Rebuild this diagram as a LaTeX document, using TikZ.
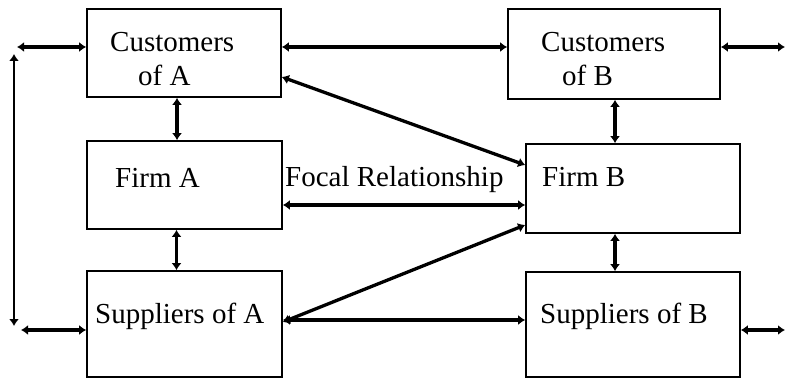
\documentclass[tikz,border=0pt]{standalone}
\usepackage{fontspec}
\setmainfont{Liberation Serif}
\usetikzlibrary{arrows.meta}
\begin{document}
\begin{tikzpicture}[x=1pt,y=-1pt,
  box/.style={draw,line width=1.7pt,rectangle,inner sep=0pt},
  lbl/.style={anchor=base west,inner sep=0pt,font=\fontsize{29}{34}\selectfont},
  biarrow/.style={line width=3.3pt,{Latex[length=7pt,width=10pt]}-{Latex[length=7pt,width=10pt]}}]
\useasboundingbox (0,0) rectangle (786,379);
% boxes
\node[box,minimum width=194pt,minimum height=88pt] (cA) at (184,53) {};
\node[box,minimum width=212pt,minimum height=90pt] (cB) at (614,54) {};
\node[box,minimum width=195pt,minimum height=88pt] (fA) at (184.5,185) {};
\node[box,minimum width=214pt,minimum height=89pt] (fB) at (633,188.5) {};
\node[box,minimum width=195pt,minimum height=106pt] (sA) at (184.5,324) {};
\node[box,minimum width=214pt,minimum height=105pt] (sB) at (633,324.5) {};
% texts
\node[lbl] (tcA1) at (110,52) {Customers};
\node[lbl] (tcA2) at (138,86) {of A};
\node[lbl] (tcB1) at (541,52) {Customers};
\node[lbl] (tcB2) at (562,86) {of B};
\node[lbl] (tfA) at (115,188) {Firm A};
\node[lbl] (tfocal) at (285,187) {Focal Relationship};
\node[lbl] (tfB) at (542,187) {Firm B};
\node[lbl] (tsA) at (95,323) {Suppliers of A};
\node[lbl] (tsB) at (540,323) {Suppliers of B};
% free ends
\coordinate (lt) at (17,47);
\coordinate (vt) at (14,54);
\coordinate (vb) at (14,326);
\coordinate (lb) at (21,330);
\coordinate (rB1) at (785,47);
\coordinate (rB2) at (785,330);
% connectors
\draw[biarrow] ([yshift=6pt]cA.east) -- ([yshift=6pt]cA.east -| cB.west);
\draw[biarrow] (rB1 -| cB.east) -- (rB1);
\draw[biarrow] (lt) -- (lt -| cA.west);
\draw[biarrow,line width=2.6pt] (vt) -- (vb);
\draw[biarrow] (lb) -- (lb -| sA.west);
\draw[biarrow] ([xshift=-7pt]cA.south) -- ([xshift=-7pt]cA.south |- fA.north);
\draw[biarrow] ([xshift=-8pt]fA.south) -- ([xshift=-8pt]fA.south |- sA.north);
\draw[biarrow] ([xshift=1pt]cB.south) -- ([xshift=1pt]cB.south |- fB.north);
\draw[biarrow] ([xshift=-18pt]fB.south) -- ([xshift=-18pt]fB.south |- sB.north);
\draw[biarrow] ([yshift=-20pt]fA.east) -- ([yshift=-20pt]fA.east -| fB.west);
\draw[biarrow] ([yshift=-24pt]cA.east) -- ([yshift=23.5pt]fB.west);
\draw[biarrow] ([yshift=2pt]sA.east) -- ([yshift=-36.5pt]fB.west);
\draw[biarrow] ([yshift=4pt]sA.east) -- ([yshift=4pt]sA.east -| sB.west);
\draw[biarrow] (rB2 -| sB.east) -- (rB2);
\end{tikzpicture}
\end{document}
